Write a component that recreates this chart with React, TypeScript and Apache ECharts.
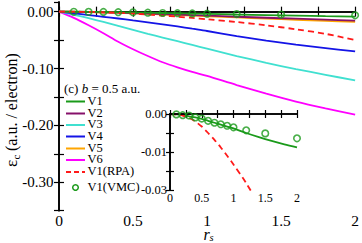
import React, { useEffect, useRef } from "react";
import * as echarts from "echarts";

// ---------- data ----------
const rs = [0, 0.1, 0.2, 0.3, 0.4, 0.5, 0.6, 0.7, 0.8, 0.9, 1.0, 1.2, 1.4, 1.6, 1.8, 2.0];
const v1 = [0, -0.0001, -0.0003, -0.0006, -0.0009, -0.0013, -0.0018, -0.0023, -0.0028, -0.0033, -0.0038, -0.005, -0.0061, -0.0071, -0.008, -0.0088];
const v2 = [0, -0.0002, -0.0006, -0.0012, -0.0018, -0.0026, -0.0034, -0.0043, -0.0052, -0.0061, -0.007, -0.0089, -0.0107, -0.0124, -0.0141, -0.0157];
const v3 = [0, -0.0055, -0.0115, -0.018, -0.025, -0.032, -0.039, -0.0455, -0.052, -0.0585, -0.065, -0.078, -0.09, -0.101, -0.111, -0.121];
const v4 = [0, -0.003, -0.006, -0.009, -0.012, -0.0155, -0.019, -0.0225, -0.026, -0.03, -0.034, -0.043, -0.051, -0.058, -0.064, -0.07];
const v5 = [0, -0.0003, -0.0008, -0.0015, -0.0022, -0.0031, -0.004, -0.005, -0.006, -0.007, -0.0081, -0.0102, -0.0122, -0.0142, -0.0161, -0.018];
const v6 = [0, -0.011, -0.024, -0.038, -0.053, -0.066, -0.078, -0.089, -0.098, -0.106, -0.113, -0.129, -0.144, -0.158, -0.17, -0.181];
const v1rpa = [0, -0.0001, -0.0004, -0.001, -0.002, -0.0033, -0.005, -0.0068, -0.0088, -0.011, -0.0133, -0.0182, -0.024, -0.031, -0.039, -0.05];
const rsVmc = [0.1, 0.2, 0.3, 0.4, 0.5, 0.6, 0.7, 0.8, 0.9, 1.0, 1.2, 1.5, 2.0];
const v1vmc = [-0.0001, -0.0003, -0.0004, -0.0009, -0.0012, -0.0018, -0.0023, -0.0027, -0.0031, -0.0035, -0.0043, -0.0051, -0.0064];

const seriesNames = ["V1", "V2", "V3", "V4", "V5", "V6", "V1(RPA)", "V1(VMC)"];
const seriesColors = ["#1a9a1a", "#86106a", "#40e0d0", "#1414e6", "#ffa500", "#ff00ff", "#ff1a1a", "#1a9a1a"];
const insetYTickValues = [0, -0.01, -0.02];
const insetYTickLabels = ["0.00", "-0.01", "-0.03"];

const SERIF = "'Liberation Serif', 'DejaVu Serif', serif";

export default function App() {
  const ref = useRef<HTMLDivElement>(null);
  useEffect(() => {
    if (!ref.current) return;
    const chart = echarts.init(ref.current, null, { renderer: "svg" });
    const pts = (xs: number[], ys: number[]) => xs.map((x, i) => [x, ys[i]]);
    const lineVals = [v1, v2, v3, v4, v5, v6];

    const mainXLabel = (v: number) => (Math.abs(v * 2 - Math.round(v * 2)) < 1e-6 ? String(Math.round(v * 2) / 2) : "");
    const mainYLabel = (v: number) => {
      const r = Math.round(v * 100);
      return r % 10 === 0 && Math.abs(v * 100 - r) < 1e-6 ? (r / 100).toFixed(2) : "";
    };
    const insetYLabel = (v: number) => {
      const idx = insetYTickValues.findIndex((t) => Math.abs(t - v) < 1e-9);
      return idx >= 0 ? insetYTickLabels[idx] : "";
    };

    const axisLine = { lineStyle: { color: "#000", width: 1.6 } };
    const mkX = (grid: number, pos: string, showLabel: boolean, fs: number, tick: number, z: number, margin: number) => ({
      type: "value", gridIndex: grid, position: pos, min: 0, max: 2, interval: 0.25, z,
      axisLine, splitLine: { show: false },
      axisTick: { inside: true, length: tick, lineStyle: { color: "#000", width: 1.2 } },
      axisLabel: { show: showLabel, formatter: mainXLabel, color: "#000", fontSize: fs, lineHeight: fs - 2, fontFamily: SERIF, margin, showMinLabel: true, showMaxLabel: true },
    });

    const mainLines = lineVals.map((vals, i) => ({
      type: "line", name: seriesNames[i], data: pts(rs, vals), xAxisIndex: 0, yAxisIndex: 0,
      symbol: "none", smooth: 0.3, lineStyle: { color: seriesColors[i], width: 1.8 }, itemStyle: { color: seriesColors[i] },
    }));
    const order = [5, 2, 3, 4, 1, 0];

    const legendY = [101.5, 113.5, 125, 136.5, 148.5, 160, 172, 187.5];
    const legendEls: any[] = [];
    seriesNames.forEach((n, i) => {
      const y = legendY[i];
      if (i === 7) {
        legendEls.push({ type: "circle", shape: { cx: 75.5, cy: y, r: 2.8 }, style: { fill: "none", stroke: seriesColors[i], lineWidth: 1.5 } });
      } else {
        legendEls.push({
          type: "line", shape: { x1: 66, y1: y, x2: 85, y2: y },
          style: { stroke: seriesColors[i], lineWidth: 2, lineDash: i === 6 ? [5, 3] : null },
        });
      }
      legendEls.push({ type: "text", x: 87.5, y: y - 1, style: { text: n, fill: "#000", fontSize: 12.5, lineHeight: 11, fontFamily: SERIF, verticalAlign: "middle", align: "left" } });
    });

    chart.setOption({
      animation: false,
      backgroundColor: "#fff",
      grid: [
        { left: 59, top: 2, width: 299, height: 208.7 },
        { left: 170, top: 114, width: 127, height: 76, show: true, backgroundColor: "#fff", borderWidth: 0, z: 3 },
      ],
      xAxis: [
        mkX(0, "bottom", true, 15.5, 5, 1, 3.5),
        mkX(0, "top", false, 16, 5, 1, 3),
        mkX(1, "bottom", true, 12, 4, 5, 3),
        mkX(1, "top", false, 12, 4, 5, 3),
      ],
      yAxis: [
        {
          type: "value", gridIndex: 0, min: -0.35, max: 0.017, interval: 0.05, z: 1, axisLine, splitLine: { show: false },
          axisTick: { inside: true, length: 5, lineStyle: { color: "#000", width: 1.2 } },
          axisLabel: { formatter: mainYLabel, color: "#000", fontSize: 15, fontFamily: SERIF, margin: 5.5, showMaxLabel: false },
        },
        {
          type: "value", gridIndex: 0, position: "right", min: -0.35, max: 0.017, interval: 0.05, z: 1, axisLine, splitLine: { show: false },
          axisTick: { inside: true, length: 5, lineStyle: { color: "#000", width: 1.2 } },
          axisLabel: { show: false },
        },
        {
          type: "value", gridIndex: 1, min: -0.02, max: 0, interval: 0.005, z: 5, axisLine, splitLine: { show: false },
          axisTick: { inside: true, length: 4, lineStyle: { color: "#000", width: 1.2 } },
          axisLabel: { formatter: insetYLabel, color: "#000", fontSize: 12.5, fontFamily: SERIF, margin: 3 },
        },
        {
          type: "value", gridIndex: 1, position: "right", min: -0.02, max: 0, interval: 0.005, z: 5, axisLine, splitLine: { show: false },
          axisTick: { inside: true, length: 4, lineStyle: { color: "#000", width: 1.2 } },
          axisLabel: { show: false },
        },
      ],
      series: [
        ...order.map((i) => mainLines[i]),
        {
          type: "line", name: seriesNames[6], data: pts(rs, v1rpa), xAxisIndex: 0, yAxisIndex: 0, symbol: "none", smooth: 0.3,
          lineStyle: { color: seriesColors[6], width: 1.8, type: [6, 4] },
        },
        {
          type: "scatter", name: seriesNames[7], data: pts(rsVmc, v1vmc), xAxisIndex: 0, yAxisIndex: 0, symbol: "circle", symbolSize: 6.5,
          itemStyle: { color: "transparent", borderColor: seriesColors[7], borderWidth: 1.6 }, clip: false, z: 3,
        },
        {
          type: "line", name: seriesNames[0], data: pts(rs, v1), xAxisIndex: 2, yAxisIndex: 2, symbol: "none", smooth: 0.3, z: 4,
          lineStyle: { color: seriesColors[0], width: 1.8 },
        },
        {
          type: "line", name: seriesNames[6], data: pts(rs, v1rpa), xAxisIndex: 2, yAxisIndex: 2, symbol: "none", smooth: 0.3, z: 4, clip: true,
          lineStyle: { color: seriesColors[6], width: 1.8, type: [6, 4] },
        },
        {
          type: "scatter", name: seriesNames[7], data: pts(rsVmc, v1vmc), xAxisIndex: 2, yAxisIndex: 2, symbol: "circle", symbolSize: 6.5, z: 6,
          itemStyle: { color: "transparent", borderColor: seriesColors[7], borderWidth: 1.6 }, clip: false,
        },
      ],
      graphic: [
        {
          type: "text", x: 64, y: 88.5,
          style: {
            text: "{n|(c) }{i|b}{n| = 0.5 a.u.}", verticalAlign: "middle", align: "left",
            rich: {
              n: { fontSize: 13, lineHeight: 12, fontFamily: SERIF, fill: "#000" },
              i: { fontSize: 13, lineHeight: 12, fontFamily: SERIF, fontStyle: "italic", fill: "#000" },
            },
          },
        },
        ...legendEls,
        {
          type: "group", x: 11, y: 105, rotation: Math.PI / 2,
          children: [
            { type: "text", x: -62, y: 0, style: { text: "ε", fontSize: 17, fontFamily: SERIF, fill: "#000", verticalAlign: "middle", align: "left" } },
            { type: "text", x: -54.5, y: 5, style: { text: "c", fontSize: 11, fontFamily: SERIF, fill: "#000", verticalAlign: "middle", align: "left" } },
            { type: "text", x: -46, y: 0, style: { text: "(a.u. / electron)", fontSize: 16, fontFamily: SERIF, fill: "#000", verticalAlign: "middle", align: "left" } },
          ],
        },
        { type: "text", x: 206.5, y: 234.5, style: { text: "r", fontSize: 16, lineHeight: 12, fontStyle: "italic", fontFamily: SERIF, fill: "#000", verticalAlign: "middle", align: "center" } },
        { type: "text", x: 211.5, y: 237.5, style: { text: "s", fontSize: 10.5, lineHeight: 8, fontStyle: "italic", fontFamily: SERIF, fill: "#000", verticalAlign: "middle", align: "center" } },
      ],
    });
    return () => chart.dispose();
  }, []);
  return <div ref={ref} style={{ position: "absolute", left: 0, top: 0, width: 362, height: 243 }} />;
}
